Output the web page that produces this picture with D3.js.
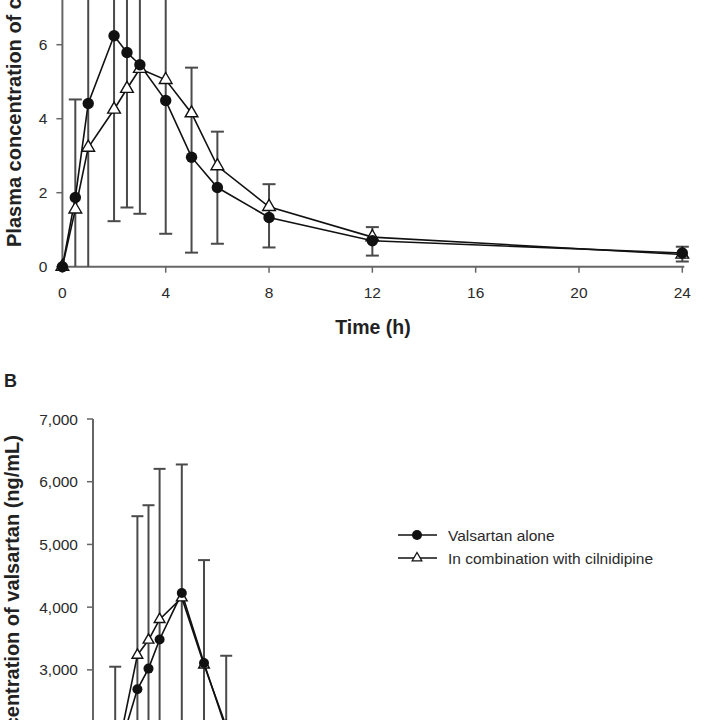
<!DOCTYPE html>
<html><head><meta charset="utf-8">
<script src="https://cdn.jsdelivr.net/npm/d3@7"></script>
<style>
html,body{margin:0;padding:0;background:#fff;overflow:hidden;}
svg{display:block;font-family:"Liberation Sans",Arial,sans-serif;}
</style></head>
<body>
<svg id="c" width="720" height="720"></svg>
<script>
// ---- Panel A data (cilnidipine, ng/mL) ----
const timesA   = [0, 0.5, 1, 2, 2.5, 3, 4, 5, 6, 8, 12, 24];
const aloneA   = [0, 1.87, 4.41, 6.24, 5.79, 5.46, 4.49, 2.96, 2.14, 1.33, 0.70, 0.37];
const comboA   = [0, 1.55, 3.22, 4.25, 4.81, 5.35, 5.05, 4.15, 2.72, 1.62, 0.80, 0.33];
const errLowA  = [null, 0, 0, 1.23, 1.60, 1.43, 0.89, 0.38, 0.62, 0.52, 0.30, 0.14];
const errHighA = [null, 4.52, 8.6, 11.0, 10.0, 9.6, 9.3, 5.38, 3.65, 2.23, 1.07, 0.54];
const xTicksA  = [0, 4, 8, 12, 16, 20, 24];
const yTicksA  = [0, 2, 4, 6, 8];

// ---- Panel B data (valsartan, ng/mL) ----
const timesB   = [0, 0.5, 1, 2, 2.5, 3, 4, 5, 6];
const aloneB   = [0, 800, 1520, 2690, 3020, 3485, 4225, 3110, 2050];
const comboB   = [0, 750, 1510, 3235, 3475, 3805, 4150, 3080, 2100];
const errLowB  = [null, 0, 0, 1020, 1325, 1405, 2000, 1470, 875];
const errHighB = [null, 1700, 3050, 5450, 5625, 6205, 6275, 4750, 3225];
const yTicksB  = [0, 1000, 2000, 3000, 4000, 5000, 6000, 7000];

const legendLabels = ["Valsartan alone", "In combination with cilnidipine"];

const svg = d3.select("#c");
const axisCol = "#666", barCol = "#4a4a4a", textCol = "#2a2a2a";

function panel(opt){
  const g = svg.append("g");
  const x = opt.x, y = opt.y;
  g.append("line").attr("x1", x(0)).attr("x2", x(0))
    .attr("y1", y(opt.yMax)).attr("y2", y(0))
    .attr("stroke", axisCol).attr("stroke-width", 2);
  if (opt.xTicks) {
    g.append("line").attr("x1", x(0)).attr("x2", x(24)+2)
      .attr("y1", y(0)).attr("y2", y(0))
      .attr("stroke", axisCol).attr("stroke-width", 2);
    const xt = g.append("g").selectAll("g").data(opt.xTicks).join("g");
    xt.append("line").attr("x1", d=>x(d)).attr("x2", d=>x(d))
      .attr("y1", y(0)).attr("y2", y(0)+6).attr("stroke", axisCol).attr("stroke-width", 1.5);
    xt.append("text").attr("x", d=>x(d)).attr("y", y(0)+31)
      .attr("text-anchor","middle").attr("font-size", 15.5).attr("fill", textCol)
      .text(d=>d);
  }
  const yt = g.append("g").selectAll("g").data(opt.yTicks).join("g");
  yt.append("line").attr("x1", x(0)-6).attr("x2", x(0))
    .attr("y1", d=>y(d)).attr("y2", d=>y(d)).attr("stroke", axisCol).attr("stroke-width", 1.5);
  yt.append("text").attr("x", x(0)-15).attr("y", d=>y(d)).attr("dy","0.36em")
    .attr("text-anchor","end").attr("font-size", 15.5).attr("fill", textCol)
    .text(d=>opt.fmt(d));

  const idx = opt.times.map((t,i)=>i).filter(i=>opt.lo[i]!==null);
  const eb = g.append("g").selectAll("g").data(idx).join("g")
    .attr("stroke", barCol).attr("stroke-width", 2);
  eb.append("line").attr("x1", i=>x(opt.times[i])).attr("x2", i=>x(opt.times[i]))
    .attr("y1", i=>y(opt.lo[i])).attr("y2", i=>y(opt.hi[i]));
  eb.append("line").attr("x1", i=>x(opt.times[i])-opt.cap).attr("x2", i=>x(opt.times[i])+opt.cap)
    .attr("y1", i=>y(opt.hi[i])).attr("y2", i=>y(opt.hi[i]));
  eb.filter(i=>opt.lo[i]>0).append("line")
    .attr("x1", i=>x(opt.times[i])-opt.cap).attr("x2", i=>x(opt.times[i])+opt.cap)
    .attr("y1", i=>y(opt.lo[i])).attr("y2", i=>y(opt.lo[i]));

  const line = d3.line().x(d=>x(d[0])).y(d=>y(d[1]));
  [opt.combo, opt.alone].forEach(s=>{
    g.append("path").attr("d", line(opt.times.map((t,i)=>[t,s[i]])))
      .attr("fill","none").attr("stroke","#111").attr("stroke-width",1.6);
  });
  const tri = d3.symbol().type(d3.symbolTriangle).size(opt.triSize);
  g.append("g").selectAll("path").data(opt.times).join("path")
    .attr("d", tri).attr("transform",(t,i)=>`translate(${x(t)},${y(opt.combo[i])})`)
    .attr("fill","#fff").attr("stroke","#111").attr("stroke-width",1.4);
  g.append("g").selectAll("circle").data(opt.times).join("circle")
    .attr("cx", t=>x(t)).attr("cy",(t,i)=>y(opt.alone[i])).attr("r", opt.r)
    .attr("fill","#111");
  return g;
}

// Panel A
const xA = d3.scaleLinear().domain([0,24]).range([62.4, 682.3]);
const yA = d3.scaleLinear().domain([0,8]).range([266.7, 266.7-8*37]);
panel({x:xA, y:yA, yMax:8, times:timesA, alone:aloneA, combo:comboA, lo:errLowA, hi:errHighA,
  xTicks:xTicksA, yTicks:yTicksA, fmt:d=>d, cap:6.5, r:5.7, triSize:70});
svg.append("text").attr("transform","translate(21,247) rotate(-90)")
  .attr("text-anchor","start").attr("font-size",20).attr("font-weight","bold").attr("fill","#222")
  .text("Plasma concentration of cilnidipine (ng/mL)");
svg.append("text").attr("x", 373).attr("y", 334).attr("text-anchor","middle")
  .attr("font-size",19.5).attr("font-weight","bold").attr("fill","#222").text("Time (h)");

// Panel B
const xB = d3.scaleLinear().domain([0,24]).range([93, 93+24*22.2]);
const yB = d3.scaleLinear().domain([0,7000]).range([858, 419]);
panel({x:xB, y:yB, yMax:7000, times:timesB, alone:aloneB, combo:comboB, lo:errLowB, hi:errHighB,
  xTicks:null, yTicks:yTicksB, fmt:d3.format(","), cap:6, r:5, triSize:50});
svg.append("text").attr("x",4).attr("y",387).attr("font-size",18).attr("font-weight","bold")
  .attr("fill","#222").text("B");
svg.append("text").attr("transform","translate(19,435) rotate(-90)")
  .attr("text-anchor","end").attr("font-size",20).attr("font-weight","bold").attr("fill","#222")
  .text("Plasma concentration of valsartan (ng/mL)");

// Legend
const lg = svg.append("g").attr("transform","translate(398,535)");
legendLabels.forEach((lab,i)=>{
  const row = lg.append("g").attr("transform",`translate(0,${i*23})`);
  row.append("line").attr("x1",0).attr("x2",39).attr("stroke","#111").attr("stroke-width",1.6);
  if (i===0) row.append("circle").attr("cx",19).attr("r",5).attr("fill","#111");
  else row.append("path").attr("d", d3.symbol().type(d3.symbolTriangle).size(40)())
        .attr("transform","translate(19,0)").attr("fill","#fff").attr("stroke","#111").attr("stroke-width",1.3);
  row.append("text").attr("x",50).attr("dy","0.36em").attr("font-size",15.5).attr("fill",textCol).text(lab);
});
</script>
</body></html>
